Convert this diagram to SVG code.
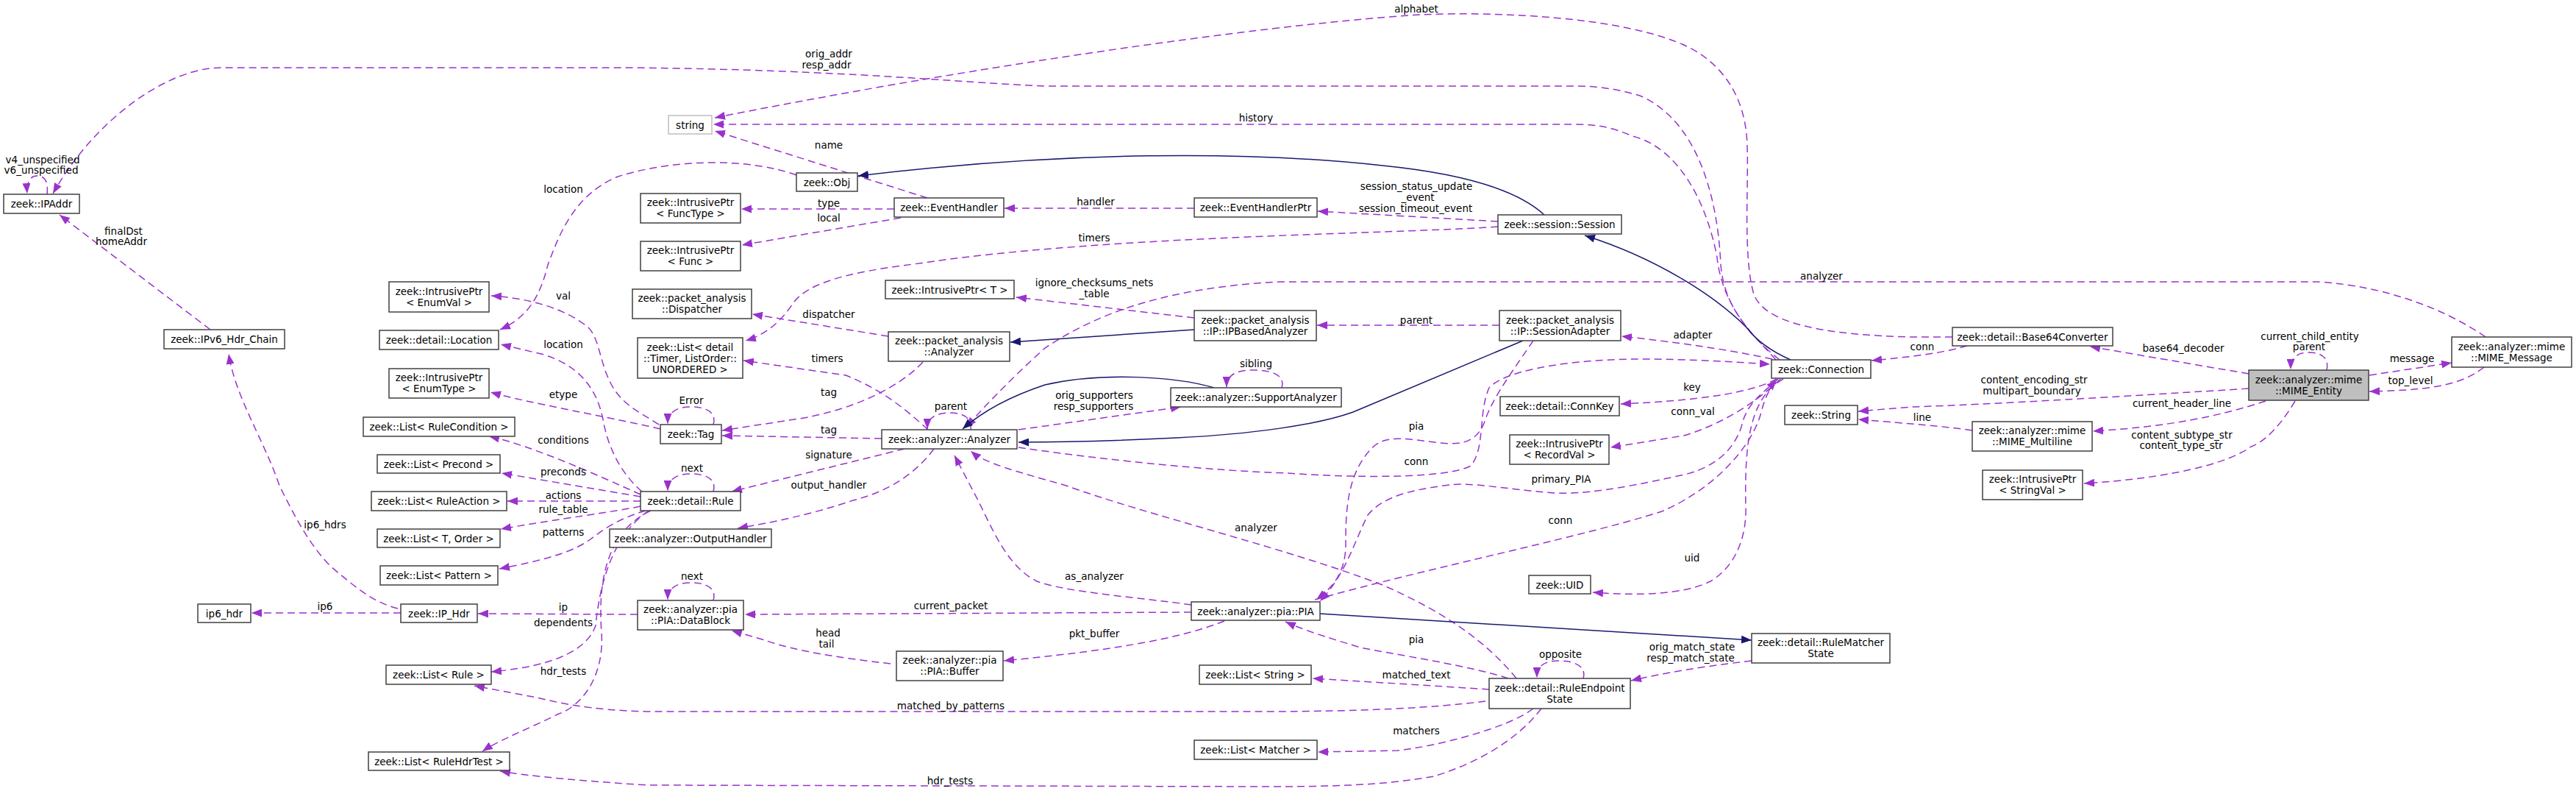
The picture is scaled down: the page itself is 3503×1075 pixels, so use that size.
<svg xmlns="http://www.w3.org/2000/svg" width="3503" height="1075" viewBox="0 0 3503 1075">
<style>
.n rect{fill:#fff;stroke:#404040;stroke-width:1.5}
.t{font-family:"DejaVu Sans",sans-serif;font-size:13.5px;fill:#000;text-anchor:middle}
.d{fill:none;stroke:#9a32cd;stroke-width:1.5;stroke-dasharray:10,6;marker-end:url(#ap)}
.s{fill:none;stroke:#191970;stroke-width:1.5;marker-end:url(#ab)}
</style>
<defs>
<marker id="ap" markerUnits="userSpaceOnUse" markerWidth="14" markerHeight="11" refX="14" refY="5.5" orient="auto" viewBox="0 0 14 11"><path d="M0,0 L14,5.5 L0,11 z" fill="#9a32cd"/></marker>
<marker id="ab" markerUnits="userSpaceOnUse" markerWidth="14" markerHeight="11" refX="14" refY="5.5" orient="auto" viewBox="0 0 14 11"><path d="M0,0 L14,5.5 L0,11 z" fill="#191970"/></marker>
</defs>
<rect width="3503" height="1075" fill="#fff"/>
<g id="edges">
<path class="d" d="M2415,489 C2380,450 2345,420 2340,360 C2335,250 2300,160 2230,130 C2190,118 2160,117 2140,117 L1421,117 C1300,112 1150,95 860,92 L300,92 C230,92 130,160 72,263"/>
<text class="t" x="1127" y="78">orig_addr</text><text class="t" x="1124" y="93">resp_addr</text>
<path class="d" d="M2655,458 L2600,458 C2480,455 2400,440 2385,400 C2370,350 2378,250 2376,200 C2375,130 2340,80 2280,57 C2200,25 2050,15 1930,20 C1700,35 1300,95 972,160"/>
<text class="t" x="1926" y="17">alphabet</text>
<path class="d" d="M2420,489 C2370,450 2340,400 2335,350 C2320,270 2280,200 2220,185 C2190,172 2170,169 2140,169 L970,169"/>
<text class="t" x="1708" y="165">history</text>
<path class="d" d="M1261,269 L972,178"/>
<text class="t" x="1127" y="202">name</text>
<path class="d" d="M1083,238 C1020,215 920,215 840,240 C780,265 760,320 745,360 C735,400 720,430 680,448"/>
<text class="t" x="766" y="262">location</text>
<path class="d" d="M1216,284 L1008,284"/>
<text class="t" x="1127" y="281">type</text>
<path class="d" d="M1225,296 L1009,333"/>
<text class="t" x="1127" y="301">local</text>
<path class="d" d="M1624,283 L1366,283"/>
<text class="t" x="1490" y="279">handler</text>
<path class="d" d="M2037,301 L1792,287"/>
<text class="t" x="1926" y="258">session_status_update</text><text class="t" x="1928" y="273">_event</text><text class="t" x="1925" y="288">session_timeout_event</text>
<path class="d" d="M2037,308 C1900,318 1500,320 1250,358 C1150,370 1100,385 1080,410 C1060,440 1040,455 1014,463"/>
<text class="t" x="1488" y="328">timers</text>
<path class="d" d="M541,827 C505,818 480,795 450,770 C420,740 400,700 380,660 C360,600 320,540 311,481"/>
<text class="t" x="442" y="718">ip6_hdrs</text>
<path class="d" d="M286,448 L81,292"/>
<text class="t" x="168" y="319">finalDst</text><text class="t" x="165" y="333">homeAddr</text>
<path class="d" d="M64,264 C66,245 60,239 50,239 C40,239 36,250 37,263"/>
<text class="t" x="58" y="222">v4_unspecified</text><text class="t" x="56" y="236">v6_unspecified</text>
<path class="d" d="M896,577 C870,560 845,550 830,520 C815,490 815,460 800,445 C770,420 720,405 668,402"/>
<text class="t" x="766" y="407">val</text>
<path class="d" d="M898,583 C820,565 720,548 667,533"/>
<text class="t" x="766" y="541">etype</text>
<path class="d" d="M873,668 C840,640 825,600 820,570 C810,520 780,495 740,482 L681,468"/>
<text class="t" x="766" y="473">location</text>
<path class="d" d="M871,672 C800,640 720,605 665,593"/>
<text class="t" x="766" y="603">conditions</text>
<path class="d" d="M871,675 L682,643"/>
<text class="t" x="766" y="646">preconds</text>
<path class="d" d="M871,681 L690,681"/>
<text class="t" x="766" y="678">actions</text>
<path class="d" d="M871,688 C840,695 760,705 681,719"/>
<text class="t" x="766" y="697">rule_table</text>
<path class="d" d="M878,694 C840,705 820,720 800,735 C770,755 720,765 679,773"/>
<text class="t" x="766" y="728">patterns</text>
<path class="d" d="M882,694 C830,730 815,800 810,850 C800,880 760,905 668,913"/>
<text class="t" x="766" y="851">dependents</text>
<path class="d" d="M885,694 C830,720 812,780 818,860 C822,920 790,960 760,970 C720,990 680,1005 656,1021"/>
<text class="t" x="766" y="917">hdr_tests</text>
<path class="d" d="M867,835 L650,834"/>
<text class="t" x="766" y="830">ip</text>
<path class="d" d="M545,833 L342,833"/>
<text class="t" x="442" y="829">ip6</text>
<path class="d" d="M970,577 C975,560 960,553 940,553 C920,553 908,560 908,576"/>
<text class="t" x="940" y="549">Error</text>
<path class="d" d="M970,668 C975,651 960,644 940,644 C920,644 908,651 908,667"/>
<text class="t" x="941" y="641">next</text>
<path class="d" d="M1208,457 L1023,427"/>
<text class="t" x="1127" y="432">dispatcher</text>
<path class="d" d="M1262,584 C1230,555 1200,530 1150,510 L1011,490"/>
<text class="t" x="1125" y="492">timers</text>
<path class="d" d="M1255,492 C1220,530 1150,560 1080,570 L982,585"/>
<text class="t" x="1127" y="538">tag</text>
<path class="d" d="M1199,596 L982,592"/>
<text class="t" x="1127" y="589">tag</text>
<path class="d" d="M1320,584 C1322,568 1310,561 1292,561 C1272,561 1261,568 1261,583"/>
<text class="t" x="1293" y="557">parent</text>
<path class="d" d="M1230,610 L995,668"/>
<text class="t" x="1127" y="623">signature</text>
<path class="d" d="M1270,610 C1240,650 1200,670 1160,680 C1100,700 1050,710 1003,718"/>
<text class="t" x="1127" y="664">output_handler</text>
<path class="d" d="M1624,432 L1382,404"/>
<text class="t" x="1488" y="389">ignore_checksums_nets</text><text class="t" x="1488" y="404">_table</text>
<path class="d" d="M2039,442 L1791,442"/>
<text class="t" x="1926" y="440">parent</text>
<path class="d" d="M1743,527 C1748,510 1730,503 1705,503 C1680,503 1668,510 1668,526"/>
<text class="t" x="1708" y="499">sibling</text>
<path class="d" d="M1385,584 L1606,553"/>
<text class="t" x="1488" y="542">orig_supporters</text><text class="t" x="1487" y="557">resp_supporters</text>
<path class="d" d="M3380,458 C3340,430 3260,390 3153,383 L1740,383 C1600,390 1500,420 1421,473 C1380,510 1340,550 1314,581"/>
<text class="t" x="2477" y="380">analyzer</text>
<path class="d" d="M1385,608 C1500,625 1650,640 1750,643 C1850,650 1970,650 2000,633 C2020,610 2010,560 2025,527 C2050,500 2150,488 2230,488 C2300,488 2360,492 2407,495"/>
<text class="t" x="1926" y="632">conn</text>
<path class="d" d="M2410,488 C2350,475 2280,465 2205,457"/>
<text class="t" x="2302" y="460">adapter</text>
<path class="d" d="M2085,463 C2060,500 2030,540 2020,570 C2010,600 1990,605 1960,602 C1920,598 1890,590 1870,605 C1830,640 1830,700 1830,740 C1830,780 1810,800 1790,815"/>
<text class="t" x="1926" y="584">pia</text>
<path class="d" d="M2418,515 C2390,540 2375,550 2368,580 C2355,620 2320,640 2281,647 C2200,665 2150,672 2113,670 C2050,665 2000,655 1972,659 C1920,665 1880,675 1860,700 C1840,740 1830,780 1795,817"/>
<text class="t" x="2123" y="656">primary_PIA</text>
<path class="d" d="M1788,815 C1950,770 2150,730 2260,695 C2340,660 2385,600 2395,560 C2400,540 2408,525 2416,516"/>
<text class="t" x="2122" y="712">conn</text>
<path class="d" d="M2416,515 C2380,535 2300,545 2204,549"/>
<text class="t" x="2301" y="531">key</text>
<path class="d" d="M2421,515 C2380,555 2330,580 2290,592 L2190,608"/>
<text class="t" x="2302" y="564">conn_val</text>
<path class="d" d="M2425,515 C2380,540 2372,600 2374,690 C2375,730 2360,770 2326,790 C2290,808 2230,810 2166,805"/>
<text class="t" x="2301" y="763">uid</text>
<path class="d" d="M2675,470 C2640,480 2600,485 2545,490"/>
<text class="t" x="2614" y="476">conn</text>
<path class="d" d="M3058,508 L2842,471"/>
<text class="t" x="2969" y="478">base64_decoder</text>
<path class="d" d="M3222,510 L3334,493"/>
<text class="t" x="3280" y="492">message</text>
<path class="d" d="M3378,499 C3350,520 3320,530 3222,532"/>
<text class="t" x="3278" y="522">top_level</text>
<path class="d" d="M3164,503 C3168,485 3155,479 3140,479 C3125,479 3115,485 3115,502"/>
<text class="t" x="3141" y="462">current_child_entity</text><text class="t" x="3140" y="476">parent</text>
<path class="d" d="M3058,528 C2900,538 2700,550 2600,553 L2527,559"/>
<text class="t" x="2766" y="521">content_encoding_str</text><text class="t" x="2763" y="536">multipart_boundary</text>
<path class="d" d="M3081,545 C3020,565 2950,580 2846,586"/>
<text class="t" x="2967" y="553">current_header_line</text>
<path class="d" d="M2682,585 C2650,580 2600,576 2527,570"/>
<text class="t" x="2614" y="572">line</text>
<path class="d" d="M3121,545 C3100,580 3080,600 3061,607 C3030,630 2950,650 2834,657"/>
<text class="t" x="2967" y="596">content_subtype_str</text><text class="t" x="2966" y="610">content_type_str</text>
<path class="d" d="M1620,832 L1013,835"/>
<text class="t" x="1293" y="828">current_packet</text>
<path class="d" d="M1620,822 C1550,812 1450,805 1410,790 C1370,770 1350,720 1330,680 L1298,619"/>
<text class="t" x="1488" y="788">as_analyzer</text>
<path class="d" d="M2062,922 C2020,870 1960,830 1880,795 C1750,745 1560,700 1450,660 C1380,640 1340,630 1320,613"/>
<text class="t" x="1708" y="722">analyzer</text>
<path class="d" d="M1665,844 C1600,870 1500,885 1365,898"/>
<text class="t" x="1488" y="866">pkt_buffer</text>
<path class="d" d="M1211,902 C1150,895 1080,885 1040,870 L995,857"/>
<text class="t" x="1126" y="865">head</text><text class="t" x="1124" y="880">tail</text>
<path class="d" d="M970,816 C975,799 960,792 940,792 C920,792 908,799 908,815"/>
<text class="t" x="941" y="788">next</text>
<path class="d" d="M2051,922 C2000,905 1900,890 1850,880 C1800,865 1770,855 1748,845"/>
<text class="t" x="1926" y="874">pia</text>
<path class="d" d="M2153,922 C2158,905 2140,898 2120,898 C2100,898 2090,905 2090,921"/>
<text class="t" x="2122" y="894">opposite</text>
<path class="d" d="M2382,898 C2320,905 2260,915 2218,925"/>
<text class="t" x="2301" y="884">orig_match_state</text><text class="t" x="2299" y="899">resp_match_state</text>
<path class="d" d="M2025,937 C1950,932 1850,926 1785,922"/>
<text class="t" x="1926" y="922">matched_text</text>
<path class="d" d="M2020,953 C1950,962 1850,967 1720,967 L880,967 C800,965 760,955 730,948 L645,932"/>
<text class="t" x="1293" y="964">matched_by_patterns</text>
<path class="d" d="M2085,963 C2050,990 1950,1015 1900,1020 L1792,1022"/>
<text class="t" x="1926" y="998">matchers</text>
<path class="d" d="M2096,963 C2060,1010 2000,1040 1950,1055 C1880,1068 1800,1069 1720,1069 L880,1067 C800,1062 720,1055 680,1048"/>
<text class="t" x="1292" y="1066">hdr_tests</text>
<path class="s" d="M2100,292 C2060,255 1980,235 1880,225 C1700,205 1450,205 1167,239"/>
<path class="s" d="M2435,489 C2410,478 2390,465 2375,445 C2330,400 2250,350 2155,320"/>
<path class="s" d="M1624,448 L1374,465"/>
<path class="s" d="M1651,527 C1600,512 1500,505 1421,523 C1370,540 1335,560 1309,583"/>
<path class="s" d="M2071,463 L1840,560 C1790,578 1700,590 1600,595 C1500,600 1420,601 1385,601"/>
<path class="s" d="M1795,834 L2382,870"/>
</g>
<g id="n_ipaddr" class="n"><rect x="5" y="264" width="103" height="26"/><text class="t" x="56.5" y="282">zeek::IPAddr</text></g>
<g id="n_string"><rect x="909" y="157" width="59" height="25" fill="#fff" stroke="#bfbfbf" stroke-width="1.5"/><text class="t" x="938.5" y="174.5">string</text></g>
<g id="n_obj" class="n"><rect x="1083" y="235" width="83" height="25"/><text class="t" x="1124.5" y="252.5">zeek::Obj</text></g>
<g id="n_ip_functype" class="n"><rect x="871" y="263" width="136" height="40"/><text class="t" x="939" y="280">zeek::IntrusivePtr</text><text class="t" x="939" y="295">&lt; FuncType &gt;</text></g>
<g id="n_eventhandler" class="n"><rect x="1216" y="269" width="149" height="26"/><text class="t" x="1290.5" y="287">zeek::EventHandler</text></g>
<g id="n_ip_func" class="n"><rect x="871" y="328" width="136" height="40"/><text class="t" x="939" y="345">zeek::IntrusivePtr</text><text class="t" x="939" y="360">&lt; Func &gt;</text></g>
<g id="n_eventhandlerptr" class="n"><rect x="1624" y="269" width="167" height="26"/><text class="t" x="1707.5" y="287">zeek::EventHandlerPtr</text></g>
<g id="n_session" class="n"><rect x="2037" y="292" width="168" height="26"/><text class="t" x="2121" y="310">zeek::session::Session</text></g>
<g id="n_dispatcher" class="n"><rect x="860" y="393" width="162" height="40"/><text class="t" x="941" y="410">zeek::packet_analysis</text><text class="t" x="941" y="425">::Dispatcher</text></g>
<g id="n_list_timer" class="n"><rect x="867" y="459" width="143" height="55"/><text class="t" x="938.5" y="477">zeek::List&lt; detail</text><text class="t" x="938.5" y="492">::Timer, ListOrder::</text><text class="t" x="938.5" y="507">UNORDERED &gt;</text></g>
<g id="n_ip_t" class="n"><rect x="1204" y="381" width="175" height="25"/><text class="t" x="1291.5" y="398.5">zeek::IntrusivePtr&lt; T &gt;</text></g>
<g id="n_pa_analyzer" class="n"><rect x="1208" y="451" width="165" height="40"/><text class="t" x="1290.5" y="468">zeek::packet_analysis</text><text class="t" x="1290.5" y="483">::Analyzer</text></g>
<g id="n_ipbased" class="n"><rect x="1624" y="422" width="166" height="41"/><text class="t" x="1707" y="439.5">zeek::packet_analysis</text><text class="t" x="1707" y="454.5">::IP::IPBasedAnalyzer</text></g>
<g id="n_sessionadapter" class="n"><rect x="2039" y="422" width="165" height="41"/><text class="t" x="2121.5" y="439.5">zeek::packet_analysis</text><text class="t" x="2121.5" y="454.5">::IP::SessionAdapter</text></g>
<g id="n_tag" class="n"><rect x="898" y="577" width="83" height="26"/><text class="t" x="939.5" y="595">zeek::Tag</text></g>
<g id="n_analyzer" class="n"><rect x="1199" y="584" width="184" height="26"/><text class="t" x="1291" y="602">zeek::analyzer::Analyzer</text></g>
<g id="n_support" class="n"><rect x="1592" y="527" width="232" height="26"/><text class="t" x="1708" y="545">zeek::analyzer::SupportAnalyzer</text></g>
<g id="n_connection" class="n"><rect x="2409" y="489" width="135" height="25"/><text class="t" x="2476.5" y="506.5">zeek::Connection</text></g>
<g id="n_base64" class="n"><rect x="2655" y="445" width="218" height="25"/><text class="t" x="2764" y="462.5">zeek::detail::Base64Converter</text></g>
<g id="n_mime_entity"><rect x="3058" y="503" width="163" height="41" fill="#bfbfbf" stroke="#404040" stroke-width="1.5"/><text class="t" x="3139.5" y="520.5">zeek::analyzer::mime</text><text class="t" x="3139.5" y="535.5">::MIME_Entity</text></g>
<g id="n_mime_message" class="n"><rect x="3334" y="458" width="163" height="41"/><text class="t" x="3415.5" y="475.5">zeek::analyzer::mime</text><text class="t" x="3415.5" y="490.5">::MIME_Message</text></g>
<g id="n_connkey" class="n"><rect x="2040" y="539" width="162" height="26"/><text class="t" x="2121" y="557">zeek::detail::ConnKey</text></g>
<g id="n_ip_recordval" class="n"><rect x="2053" y="591" width="135" height="40"/><text class="t" x="2120.5" y="608">zeek::IntrusivePtr</text><text class="t" x="2120.5" y="623">&lt; RecordVal &gt;</text></g>
<g id="n_zstring" class="n"><rect x="2427" y="551" width="99" height="26"/><text class="t" x="2476.5" y="569">zeek::String</text></g>
<g id="n_mime_multiline" class="n"><rect x="2682" y="573" width="163" height="40"/><text class="t" x="2763.5" y="590">zeek::analyzer::mime</text><text class="t" x="2763.5" y="605">::MIME_Multiline</text></g>
<g id="n_ip_stringval" class="n"><rect x="2696" y="639" width="136" height="40"/><text class="t" x="2764" y="656">zeek::IntrusivePtr</text><text class="t" x="2764" y="671">&lt; StringVal &gt;</text></g>
<g id="n_ipv6chain" class="n"><rect x="223" y="448" width="164" height="26"/><text class="t" x="305" y="466">zeek::IPv6_Hdr_Chain</text></g>
<g id="n_ip_enumval" class="n"><rect x="529" y="383" width="136" height="41"/><text class="t" x="597" y="400.5">zeek::IntrusivePtr</text><text class="t" x="597" y="415.5">&lt; EnumVal &gt;</text></g>
<g id="n_location" class="n"><rect x="516" y="449" width="162" height="26"/><text class="t" x="597" y="467">zeek::detail::Location</text></g>
<g id="n_ip_enumtype" class="n"><rect x="529" y="501" width="136" height="40"/><text class="t" x="597" y="518">zeek::IntrusivePtr</text><text class="t" x="597" y="533">&lt; EnumType &gt;</text></g>
<g id="n_list_rulecond" class="n"><rect x="494" y="567" width="206" height="26"/><text class="t" x="597" y="585">zeek::List&lt; RuleCondition &gt;</text></g>
<g id="n_list_precond" class="n"><rect x="513" y="618" width="167" height="25"/><text class="t" x="596.5" y="635.5">zeek::List&lt; Precond &gt;</text></g>
<g id="n_list_ruleaction" class="n"><rect x="505" y="668" width="184" height="26"/><text class="t" x="597" y="686">zeek::List&lt; RuleAction &gt;</text></g>
<g id="n_rule" class="n"><rect x="871" y="668" width="136" height="26"/><text class="t" x="939" y="686">zeek::detail::Rule</text></g>
<g id="n_outputhandler" class="n"><rect x="829" y="719" width="220" height="25"/><text class="t" x="939" y="736.5">zeek::analyzer::OutputHandler</text></g>
<g id="n_list_t_order" class="n"><rect x="513" y="719" width="167" height="25"/><text class="t" x="596.5" y="736.5">zeek::List&lt; T, Order &gt;</text></g>
<g id="n_list_pattern" class="n"><rect x="517" y="769" width="160" height="26"/><text class="t" x="597" y="787">zeek::List&lt; Pattern &gt;</text></g>
<g id="n_ip6_hdr" class="n"><rect x="269" y="821" width="72" height="25"/><text class="t" x="305" y="838.5">ip6_hdr</text></g>
<g id="n_ip_hdr" class="n"><rect x="545" y="821" width="104" height="25"/><text class="t" x="597" y="838.5">zeek::IP_Hdr</text></g>
<g id="n_datablock" class="n"><rect x="867" y="816" width="144" height="40"/><text class="t" x="939" y="833">zeek::analyzer::pia</text><text class="t" x="939" y="848">::PIA::DataBlock</text></g>
<g id="n_pia" class="n"><rect x="1620" y="818" width="175" height="25"/><text class="t" x="1707.5" y="835.5">zeek::analyzer::pia::PIA</text></g>
<g id="n_buffer" class="n"><rect x="1219" y="885" width="145" height="40"/><text class="t" x="1291.5" y="902">zeek::analyzer::pia</text><text class="t" x="1291.5" y="917">::PIA::Buffer</text></g>
<g id="n_uid" class="n"><rect x="2079" y="782" width="84" height="25"/><text class="t" x="2121" y="799.5">zeek::UID</text></g>
<g id="n_rulematcherstate" class="n"><rect x="2382" y="861" width="188" height="40"/><text class="t" x="2476" y="878">zeek::detail::RuleMatcher</text><text class="t" x="2476" y="893">State</text></g>
<g id="n_list_rule" class="n"><rect x="525" y="904" width="143" height="26"/><text class="t" x="596.5" y="922">zeek::List&lt; Rule &gt;</text></g>
<g id="n_list_string" class="n"><rect x="1631" y="904" width="152" height="26"/><text class="t" x="1707" y="922">zeek::List&lt; String &gt;</text></g>
<g id="n_ruleendpointstate" class="n"><rect x="2025" y="922" width="192" height="41"/><text class="t" x="2121" y="939.5">zeek::detail::RuleEndpoint</text><text class="t" x="2121" y="954.5">State</text></g>
<g id="n_list_matcher" class="n"><rect x="1624" y="1006" width="167" height="26"/><text class="t" x="1707.5" y="1024">zeek::List&lt; Matcher &gt;</text></g>
<g id="n_list_rulehdrtest" class="n"><rect x="501" y="1022" width="192" height="25"/><text class="t" x="597" y="1039.5">zeek::List&lt; RuleHdrTest &gt;</text></g>
</svg>
